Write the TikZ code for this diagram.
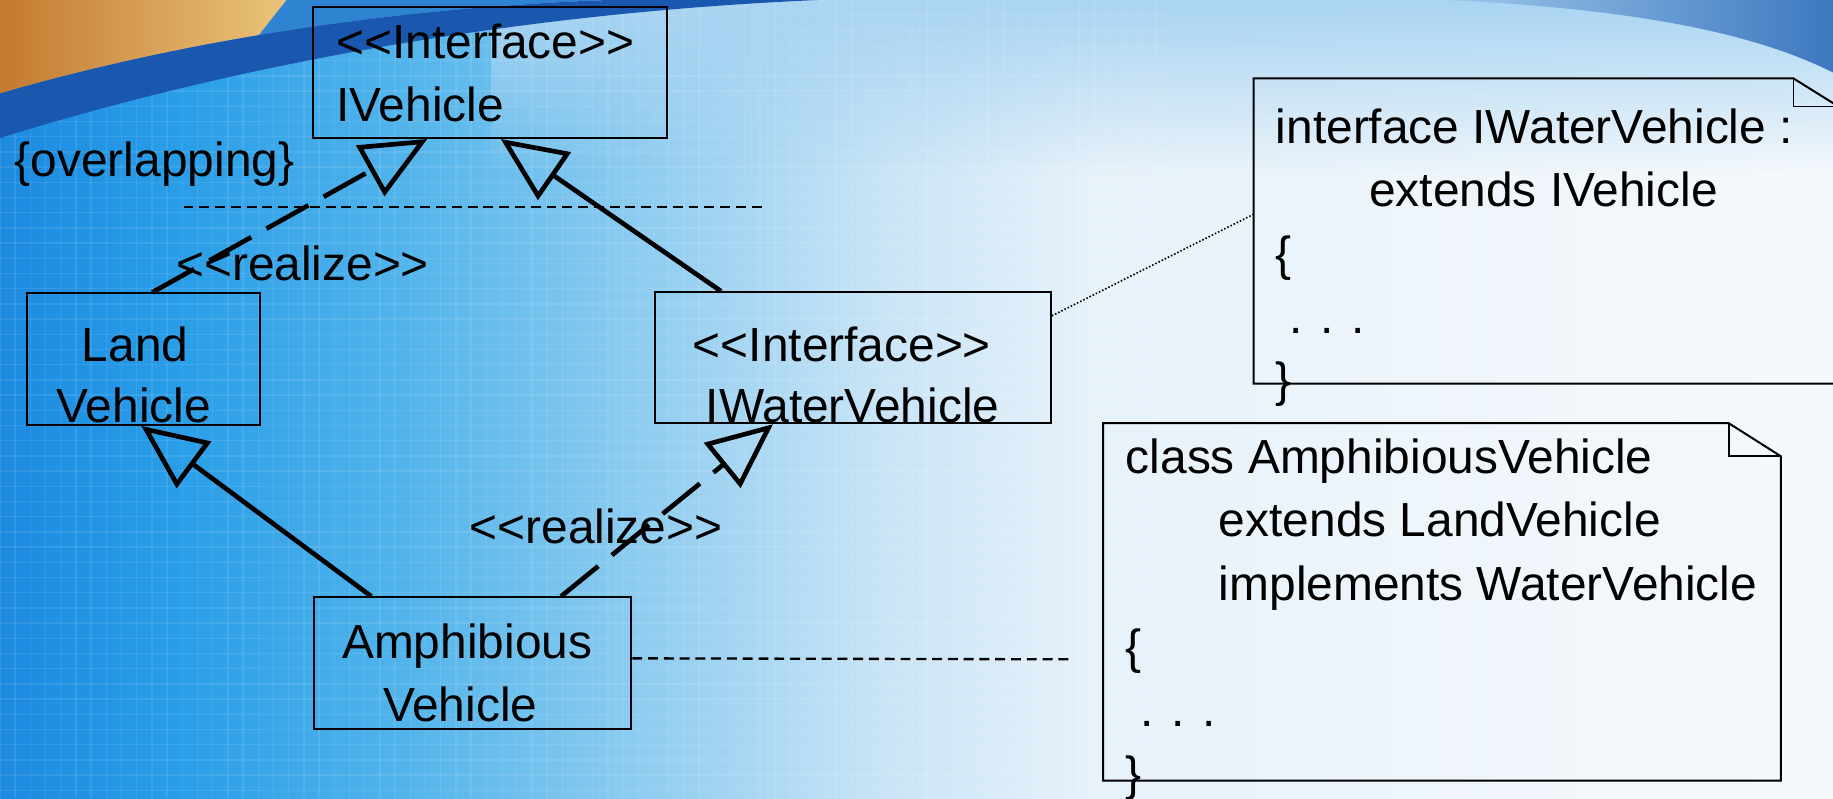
\documentclass[tikz,border=0pt]{standalone}
\usepackage{fontspec}
\setmainfont{Liberation Sans}[Ligatures=TeXOff]
\usetikzlibrary{arrows.meta,calc,fit,fadings}

% backdrop colours
\definecolor{bgA}{HTML}{1C8AE0}
\definecolor{bgB}{HTML}{2A9EE8}
\definecolor{bgC}{HTML}{52B4EB}
\definecolor{bgD}{HTML}{8ECCF0}
\definecolor{bgE}{HTML}{C8E4F6}
\definecolor{bgF}{HTML}{E8F2FA}
\definecolor{bgG}{HTML}{F6F9FC}
\definecolor{bandDark}{HTML}{1A58B0}
\definecolor{bandMid}{HTML}{2F84D2}
\definecolor{tileA}{HTML}{C47A30}
\definecolor{tileB}{HTML}{E9C47A}
\definecolor{arcL}{HTML}{9CC6EA}
\definecolor{arcR}{HTML}{3D78C0}
\definecolor{sky}{HTML}{A9D4F2}

\pgfdeclarehorizontalshading{slidebg}{100bp}{color(0bp)=(bgA); color(25bp)=(bgA);
  color(30bp)=(bgB); color(36bp)=(bgC); color(42.5bp)=(bgD); color(49bp)=(bgE);
  color(55bp)=(bgF); color(75bp)=(bgG); color(100bp)=(bgG)}

\newcommand\umlfont{\fontsize{11.65pt}{15.4pt}\selectfont}

\tikzset{
  umlbox/.style={draw=black, line width=0.17mm, inner sep=0pt},
  holder/.style={inner sep=0pt},
  noteline/.style={draw=black, line width=0.17mm, line join=miter},
  lbl/.style={inner sep=0pt, font=\umlfont, anchor=base west},
  lblc/.style={inner sep=0pt, font=\umlfont, anchor=base},
  gen/.style={line width=0.4mm, line join=miter,
    -{Triangle[open, length=5.6mm, width=4.9mm]}},
  realizes/.style={gen, dash pattern=on 4.1mm off 1.5mm},
  thindash/.style={line width=0.2mm, dash pattern=on 0.85mm off 0.5mm},
  dotline/.style={line width=0.14mm, dash pattern=on 0.13mm off 0.17mm},
  gridline/.style={white, line width=0.12mm, opacity=0.09}
}

\begin{document}
\begin{tikzpicture}[x=0.1mm, y=-0.1mm]
\clip (0,0) rectangle (1568,683);

% ---- slide backdrop ----
\shade[shading=slidebg] (0,0) rectangle (1568,683);
\fill[sky, path fading=south] (420,0) rectangle (1568,150);
\foreach \gx in {0,13,...,1000} \draw[gridline] (\gx,0) -- (\gx,683);
\foreach \gy in {0,13,...,683} \draw[gridline] (0,\gy) -- (1000,\gy);
\fill[bandMid] (0,0) -- (0,80) .. controls (120,45) and (300,8) .. (520,0) -- cycle;
\begin{scope}
  \clip (0,0) -- (0,80) .. controls (120,45) and (300,8) .. (520,0) -- cycle;
  \shade[left color=tileA, right color=tileB] (0,0) -- (245,0) -- (170,95) -- (0,95) -- cycle;
\end{scope}
\fill[bandDark] (0,80) .. controls (120,45) and (300,8) .. (520,0) -- (700,0)
  .. controls (420,12) and (180,62) .. (0,118) -- cycle;
\shade[left color=arcL, right color=arcR] (1240,0) .. controls (1400,8) and (1500,28)
  .. (1568,62) -- (1568,0) -- cycle;

% ---- class boxes ----
\node[umlbox, fit={(268,6) (570.6,118)}] (ivehicle) {};
\node[umlbox, fit={(23,251) (222,363.5)}] (land) {};
\node[umlbox, fit={(560,250) (899,362)}] (iwater) {};
\node[umlbox, fit={(269,511) (540,623.6)}] (amph) {};

% ---- notes with a folded corner ----
\node[holder, fit={(1073,67.8) (1572,327.4)}] (note1) {};
\draw[noteline] (note1.north west) -- ($(note1.north east)+(-38.5,0)$)
  -- ($(note1.north east)+(0,24)$) -- (note1.south east) -- (note1.south west) -- cycle;
\draw[noteline] ($(note1.north east)+(-38.5,0)$) |- ($(note1.north east)+(0,24)$);

\node[holder, fit={(944.4,362.7) (1522.7,667)}] (note2) {};
\draw[noteline] (note2.north west) -- ($(note2.north east)+(-44.6,0)$)
  -- ($(note2.north east)+(0,28.3)$) -- (note2.south east) -- (note2.south west) -- cycle;
\draw[noteline] ($(note2.north east)+(-44.6,0)$) |- ($(note2.north east)+(0,28.3)$);

% ---- generalisation set line and note anchors ----
\coordinate (ovA) at (157,177);
\coordinate (ovB) at (655,177);
\draw[thindash] (ovA) -- (ovB);
\coordinate (amphTail) at (918,564);
\draw[thindash] ($(amph.north east)+(0,53)$) -- (amphTail);
\draw[dotline] ($(iwater.north east)+(0,21)$) -- ($(note1.north west)+(0,116.2)$);

% ---- inheritance / realization arrows ----
\draw[realizes] ($(land.north west)+(108,0)$) -- ($(ivehicle.south west)+(98.4,0)$);
\draw[gen] ($(iwater.north west)+(57.7,0)$) -- ($(ivehicle.south west)+(161.2,0)$);
\draw[gen] ($(amph.north west)+(49.5,0)$) -- ($(land.south west)+(98.8,0)$);
\draw[realizes] ($(amph.north west)+(211.8,0)$) -- ($(iwater.south west)+(102.1,0)$);

% ---- texts ----
\node[lbl] (ivSt) at (287,50) {<<Interface>>};
\node[lbl] (ivNm) at (287,104) {IVehicle};
\node[lbl] (ovl) at (12,151) {\{overlapping\}};
\node[lbl] (rlA) at (150,240) {<<realize>>};
\node[lblc] (lvA) at (115.5,309) {Land};
\node[lblc] (lvB) at (114.5,361.5) {Vehicle};
\node[lbl] (iwSt) at (592,309) {<<Interface>>};
\node[lbl] (iwNm) at (603,361) {IWaterVehicle};
\node[lbl] (avA) at (292,563) {Amphibious};
\node[lbl] (avB) at (327,617) {Vehicle};
\node[lbl] (rlB) at (401,465) {<<realize>>};

\node[lbl] (nAa) at (1090.7,122.6) {interface IWaterVehicle :};
\node[lbl] (nAb) at (1170.5,176.8) {extends IVehicle};
\node[lbl] (nAc) at (1090.7,231) {\{};
\node[lbl] (nAd) at (1102.7,285.2) {. . .};
\node[lbl] (nAe) at (1090.7,339.4) {\}};

\node[lbl] (nBa) at (962.4,404.9) {class AmphibiousVehicle};
\node[lbl] (nBb) at (1042,459.1) {extends LandVehicle};
\node[lbl] (nBc) at (1042,513.3) {implements WaterVehicle};
\node[lbl] (nBd) at (962.4,567.5) {\{};
\node[lbl] (nBe) at (974.6,621.7) {. . .};
\node[lbl] (nBf) at (962.4,675.9) {\}};
\end{tikzpicture}
\end{document}
